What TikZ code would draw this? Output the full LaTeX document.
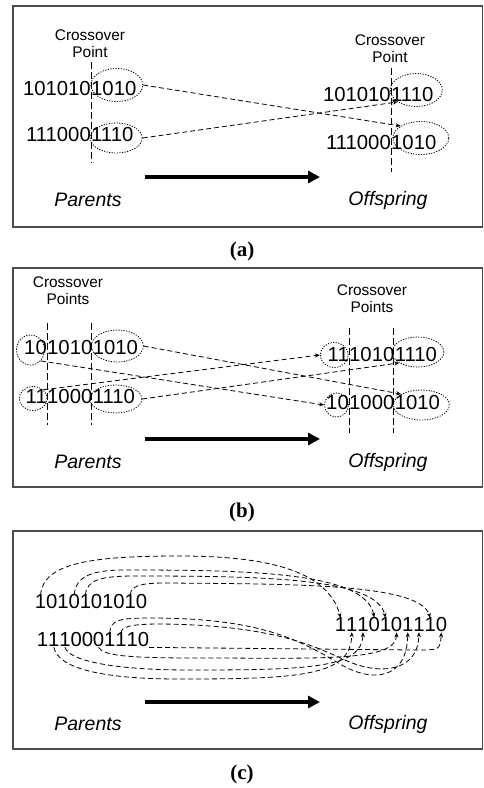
\documentclass[tikz,border=0pt]{standalone}
\usepackage{fontspec}
\setmainfont{Liberation Sans}
\newfontfamily\capfont{Liberation Serif}
\usetikzlibrary{arrows.meta,shapes.geometric}

\newcommand\bitfont{\fontsize{20.3}{24}\selectfont}
\newcommand\lblfont{\fontsize{15.4}{17}\selectfont}
\newcommand\rolefont{\fontsize{19.5}{23}\selectfont\itshape}

\begin{document}
\begin{tikzpicture}[x=1pt,y=-1pt,>={Stealth[length=5pt,width=4pt]},
  bits/.style={inner sep=0pt,font=\bitfont},
  lbl/.style={align=center,inner sep=0pt,font=\lblfont},
  role/.style={inner sep=0pt,font=\rolefont},
  caption/.style={inner sep=0pt,font=\capfont\bfseries\fontsize{21}{24}\selectfont},
  panel/.style={draw=black!70,line width=1.2pt},
  crosscut/.style={dash pattern=on 7pt off 3pt,line width=0.9pt},
  blob/.style={ellipse,draw,dash pattern=on 1.2pt off 1.4pt,line width=0.8pt,inner sep=0pt,minimum width=52pt,minimum height=33pt},
  small blob/.style={blob,minimum width=28pt,minimum height=27pt},
  xfer/.style={->,dash pattern=on 5pt off 3pt,line width=0.8pt},
  bigarrow/.style={-{Triangle[length=12pt,width=12pt]},line width=4.5pt}]
\useasboundingbox (0,0) rectangle (483,788);

% (a) one crossover point
\draw[panel] (13,6) rectangle (482.5,227);
\node[lbl] (ala) at (90,43.5) {Crossover\\Point};
\node[lbl] (alb) at (390,49) {Crossover\\Point};
\draw[crosscut] (91,62) -- (91,163);
\draw[crosscut] (391,68) -- (391,172);

\node[bits,anchor=east] (ap1l) at (91,89) {101010};
\node[bits,anchor=west] (ap1r) at (ap1l.east) {1010};
\node[bits,anchor=east] (ap2l) at (91,135) {111000};
\node[bits,anchor=west] (ap2r) at (ap2l.east) {1110};
\node[bits,anchor=east] (ao1l) at (391,95) {101010};
\node[bits,anchor=west] (ao1r) at (ao1l.east) {1110};
\node[bits,anchor=east] (ao2l) at (391,143) {111000};
\node[bits,anchor=west] (ao2r) at (ao2l.east) {1010};

\node[blob] (ape1) at ([shift={(3,-4)}]ap1r.center) {};
\node[blob,minimum height=30pt] (ape2) at ([shift={(4,3)}]ap2r.center) {};
\node[blob] (aoe1) at ([shift={(4,-5)}]ao1r.center) {};
\node[blob,minimum width=56pt] (aoe2) at ([shift={(7,-5)}]ao2r.center) {};

\draw[xfer] (ape1.east) -- (aoe2.north west);
\draw[xfer] (ape2.east) -- (aoe1.south west);

\coordinate (af0) at (145,177);
\coordinate (af1) at (320,177);
\draw[bigarrow] (af0) -- (af1);
\node[role] (apar) at (88,200) {Parents};
\node[role] (aoff) at (388,200) {Offspring};
\node[caption] (acap) at (242,251) {(a)};

% (b) two crossover points
\draw[panel] (13,268) rectangle (482.5,487);
\node[lbl] (bla) at (68,291) {Crossover\\Points};
\node[lbl] (blb) at (372,298.5) {Crossover\\Points};
\draw[crosscut] (47,323) -- (47,425);
\draw[crosscut] (91.5,323) -- (91.5,425);
\draw[crosscut] (349,328) -- (349,433);
\draw[crosscut] (393.5,328) -- (393.5,433);

\node[bits,anchor=east] (bp1a) at (47,348) {10};
\node[bits,anchor=west] (bp1b) at (bp1a.east) {1010};
\node[bits,anchor=west] (bp1c) at (bp1b.east) {1010};
\node[bits,anchor=east] (bp2a) at (47,397) {11};
\node[bits,anchor=west] (bp2b) at (bp2a.east) {1000};
\node[bits,anchor=west] (bp2c) at (bp2b.east) {1110};
\node[bits,anchor=east] (bo1a) at (349,355) {11};
\node[bits,anchor=west] (bo1b) at (bo1a.east) {1010};
\node[bits,anchor=west] (bo1c) at (bo1b.east) {1110};
\node[bits,anchor=east] (bo2a) at (349,403) {10};
\node[bits,anchor=west] (bo2b) at (bo2a.east) {1000};
\node[bits,anchor=west] (bo2c) at (bo2b.east) {1010};

\node[small blob,minimum height=30pt] (bpe1a) at ([shift={(-5,2)}]bp1a.center) {};
\node[blob,minimum height=32pt] (bpe1c) at ([shift={(2,-2)}]bp1c.center) {};
\node[small blob,minimum height=24pt] (bpe2a) at ([shift={(-3,1.5)}]bp2a.center) {};
\node[blob,minimum height=28pt] (bpe2c) at ([shift={(2,2)}]bp2c.center) {};
\node[small blob,minimum height=25pt] (boe1a) at ([shift={(-4,0)}]bo1a.center) {};
\node[blob,minimum height=30pt] (boe1c) at ([shift={(2,-3)}]bo1c.center) {};
\node[small blob,minimum width=24pt,minimum height=24pt] (boe2a) at ([shift={(-1,2)}]bo2a.center) {};
\node[blob,minimum width=56pt,minimum height=30pt] (boe2c) at ([shift={(4,2)}]bo2c.center) {};

\draw[xfer] (bpe1c.east) -- (boe2c.north west);
\draw[xfer] (bpe1a.south east) -- (boe2a.west);
\draw[xfer] (bpe2a.north east) -- (boe1a.west);
\draw[xfer] (bpe2c.east) -- (boe1c.south west);

\coordinate (bf0) at (145,439);
\coordinate (bf1) at (320,439);
\draw[bigarrow] (bf0) -- (bf1);
\node[role] (bpar) at (88,462) {Parents};
\node[role] (boff) at (388,462) {Offspring};
\node[caption] (bcap) at (242,512) {(b)};

% (c) uniform crossover, one node per bit
\draw[panel] (13,531) rectangle (482.5,749);
\foreach \d [count=\i from 0] in {1,0,1,0,1,0,1,0,1,0}
  \node[bits] (ca\i) at ({40.6+11.2*\i},602) {\d};
\foreach \d [count=\i from 0] in {1,1,1,0,0,0,1,1,1,0}
  \node[bits] (cb\i) at ({42.6+11.2*\i},640) {\d};
\foreach \d [count=\i from 0] in {1,1,1,0,1,0,1,1,1,0}
  \node[bits] (cc\i) at ({340.6+11.2*\i},625) {\d};

% bits taken from the first parent
\draw[xfer] (ca0.north) .. controls (43,562) and (95,556) .. (180,556) .. controls (265,556) and (328,570) .. (cc0.north);
\draw[xfer] (ca3.north) .. controls (76,576) and (92,570) .. (125,570) .. controls (250,570) and (366,572) .. (cc3.north);
\draw[xfer] (ca4.north) .. controls (87,580) and (100,576) .. (135,576) .. controls (265,576) and (377,578) .. (cc4.north);
\draw[xfer] (ca8.north) .. controls (131,586) and (140,583) .. (165,583) .. controls (300,584) and (420,584) .. (cc8.north);
% bits taken from the second parent
\draw[xfer] (cb9.south east) -- (415,650) .. controls (440,650) .. (cc9.south);
\draw[xfer] (cb1.south) .. controls (58,668) and (100,679) .. (180,679) .. controls (300,679) and (351,676) .. (cc1.south);
\draw[xfer] (cb2.south) .. controls (68,660) and (110,670) .. (190,670) .. controls (310,670) and (362,668) .. (cc2.south);
\draw[xfer] (cb5.south) .. controls (103,656) and (130,658) .. (200,658) .. controls (320,658) and (396,662) .. (cc5.south);
\draw[xfer] (cb6.north) .. controls (110,620) and (120,618) .. (150,618) .. controls (260,618) and (300,640) .. (340,664) .. controls (372,683) and (407,680) .. (cc6.south);
\draw[xfer] (cb7.north) .. controls (121,627) and (130,624) .. (160,624) .. controls (270,625) and (312,645) .. (345,660) .. controls (380,676) and (418,672) .. (cc7.south);

\coordinate (cf0) at (145,702);
\coordinate (cf1) at (320,702);
\draw[bigarrow] (cf0) -- (cf1);
\node[role] (cpar) at (88,724) {Parents};
\node[role] (coff) at (388,724) {Offspring};
\node[caption] (ccap) at (242,774) {(c)};
\end{tikzpicture}
\end{document}
